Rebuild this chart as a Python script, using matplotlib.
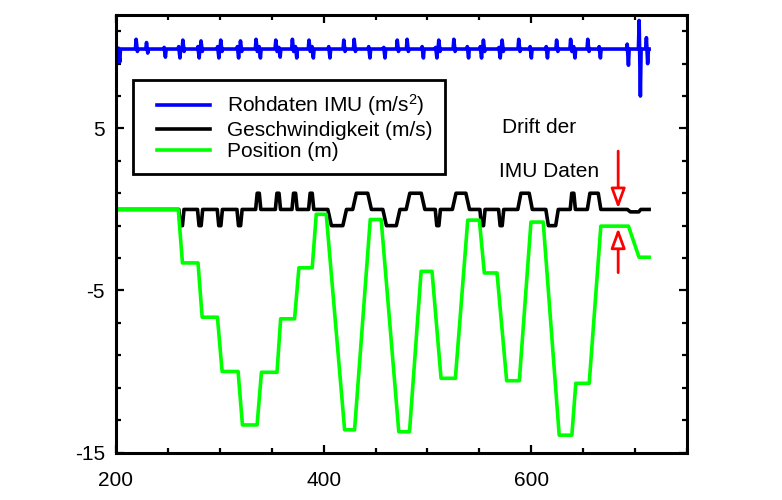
import numpy as np
import matplotlib
matplotlib.use("Agg")
import matplotlib.pyplot as plt
from matplotlib.ticker import MultipleLocator, FixedLocator
from matplotlib.legend_handler import HandlerLine2D
from matplotlib.lines import Line2D

plt.rcParams['font.family'] = ['Liberation Sans', 'DejaVu Sans']
plt.rcParams['mathtext.fontset'] = 'custom'
plt.rcParams['mathtext.rm'] = 'Liberation Sans'
plt.rcParams['mathtext.it'] = 'Liberation Sans:italic'
plt.rcParams['axes.unicode_minus'] = False

# --- data ---
# raw IMU data: baseline plus spikes (x, max, min)
imu_base = 9.9
imu_start, imu_end = 200, 713.5
imu_spike_x = [203, 220, 230, 247, 261, 265, 279.5, 282.5, 298.5, 301.5,
               317.5, 320.5, 335.5, 338.5, 354.5, 357.5, 370.5, 373.5, 386.5, 389.5,
               405.5, 420, 430, 444, 458.5, 471.5, 481, 495.5, 508.5, 511.5,
               526, 539, 551.5, 554.5, 569.5, 572.5, 588.5, 599.5, 615, 625,
               638.5, 641.5, 655, 666, 693, 704.5, 711.5]
imu_spike_hi = [9.95, 10.5, 10.3, 10.0, 10.05, 10.45, 10.05, 10.4, 10.05, 10.45,
                10.05, 10.4, 10.5, 10.05, 10.45, 10.0, 10.5, 10.05, 10.45, 10.05,
                10.05, 10.45, 10.5, 10.05, 10.0, 10.45, 10.5, 10.05, 10.0, 10.45,
                10.5, 10.05, 10.05, 10.45, 10.0, 10.45, 10.5, 10.05, 10.05, 10.45,
                10.5, 10.05, 10.5, 10.05, 10.2, 11.66, 10.6]
imu_spike_lo = [9.1, 9.75, 9.65, 9.4, 9.35, 9.75, 9.35, 9.75, 9.35, 9.75,
                9.35, 9.75, 9.75, 9.35, 9.75, 9.4, 9.75, 9.35, 9.75, 9.35,
                9.35, 9.75, 9.75, 9.35, 9.35, 9.75, 9.75, 9.35, 9.35, 9.75,
                9.75, 9.35, 9.35, 9.75, 9.35, 9.75, 9.75, 9.35, 9.35, 9.75,
                9.75, 9.35, 9.75, 9.35, 8.9, 7.0, 9.0]

# velocity (m/s)
vel_x = [200, 260.5, 262, 264, 265.5,
         278.5, 280, 282, 283.5,
         297.5, 299, 301, 302.5,
         316.5, 318, 320, 321.5,
         334.5, 336, 338, 339.5,
         353.5, 355, 357, 358.5,
         369.5, 371, 373, 374.5,
         385.5, 387, 389, 390.5,
         404, 407.5, 418.5, 422,
         428, 431.5, 442.5, 446,
         457, 460.5, 470, 473.5,
         479.5, 483, 494, 497.5,
         507.5, 509, 511, 512.5,
         524, 527.5, 537, 540.5,
         550.5, 552, 554, 555.5,
         568.5, 570, 572, 573.5,
         587, 590, 598, 601,
         614, 616.5, 623.5, 626,
         637.5, 639, 641, 642.5,
         654, 656.5, 664.5, 667,
         692.5, 695.5, 703.5, 705.5,
         713.5]
vel_y = [0, 0, -1, -1, 0,
         0, -1, -1, 0,
         0, -1, -1, 0,
         0, -1, -1, 0,
         0, 1, 1, 0,
         0, 1, 1, 0,
         0, 1, 1, 0,
         0, 1, 1, 0,
         0, -1, -1, 0,
         0, 1, 1, 0,
         0, -1, -1, 0,
         0, 1, 1, 0,
         0, -1, -1, 0,
         0, 1, 1, 0,
         0, -1, -1, 0,
         0, -1, -1, 0,
         0, 1, 1, 0,
         0, -1, -1, 0,
         0, 1, 1, 0,
         0, 1, 1, 0,
         0, -0.15, -0.15, 0,
         0]

# position (m)
pos_x = [200, 260, 264, 279, 283, 297.7, 302.2, 317.6, 321.8, 335.9,
         340.1, 355.1, 358.6, 372, 376.2, 389, 392.9, 402.5, 420.2, 429.8,
         444.9, 455.4, 472.4, 482.7, 493.9, 504.4, 513.1, 526.9, 538.8, 550,
         554.8, 567, 576.3, 588.5, 599.7, 611.5, 626.9, 639.1, 642.9, 655.8,
         667, 693.6, 703.8, 713.5]
pos_y = [0, 0, -3.3, -3.3, -6.65, -6.65, -10.0, -10.0, -13.3, -13.3,
         -10.05, -10.05, -6.75, -6.75, -3.6, -3.6, -0.3, -0.3, -13.6, -13.6,
         -0.62, -0.62, -13.72, -13.72, -3.82, -3.82, -10.42, -10.42, -0.66, -0.66,
         -3.92, -3.92, -10.57, -10.57, -0.78, -0.78, -13.93, -13.93, -10.73, -10.73,
         -1.03, -1.03, -2.95, -2.95]

labels = ['Rohdaten IMU (m/s$^2$)', 'Geschwindigkeit (m/s)', 'Position (m)']
drift_x = 683.7
drift_top = (3.6, 0.05)
drift_bottom = (-3.9, -1.15)

# build the IMU trace from baseline and spikes
imu_x = [imu_start]
imu_y = [imu_base]
for sx, hi, lo in zip(imu_spike_x, imu_spike_hi, imu_spike_lo):
    imu_x += [sx - 1.3, sx - 0.6, sx + 0.6, sx + 1.3]
    imu_y += [imu_base, hi, lo, imu_base]
imu_x.append(imu_end)
imu_y.append(imu_base)

fig = plt.figure(figsize=(7.82, 5.0), dpi=100)
ax = fig.add_axes([116 / 782, 1 - 452.5 / 500, 571 / 782, 437.5 / 500])

ax.plot(imu_x, imu_y, color='#0000ff', lw=2.6, solid_joinstyle='round', label=labels[0])
ax.plot(vel_x, vel_y, color='black', lw=2.6, solid_joinstyle='round', label=labels[1])
ax.plot(pos_x, pos_y, color='#00ff00', lw=2.6, solid_joinstyle='round', label=labels[2])

arrow_props = dict(arrowstyle='-|>,head_length=0.6,head_width=0.22', color='red',
                   fc='white', lw=2, shrinkA=0, shrinkB=0, mutation_scale=20)
ax.annotate('', xy=(drift_x, drift_top[1]), xytext=(drift_x, drift_top[0]), arrowprops=arrow_props)
ax.annotate('', xy=(drift_x, drift_bottom[1]), xytext=(drift_x, drift_bottom[0]), arrowprops=arrow_props)

ax.text(572, 5.08, 'Drift der', fontsize=15, va='center')
ax.text(569, 2.36, 'IMU Daten', fontsize=15, va='center')

ax.set_xlim(200, 750)
ax.set_ylim(-15, 12)
ax.set_xticks([200, 400, 600])
ax.xaxis.set_minor_locator(MultipleLocator(50))
ax.set_yticks([-15, -5, 5])
ax.yaxis.set_minor_locator(FixedLocator(np.arange(-13, 12, 2)))
ax.tick_params(which='both', direction='in', top=True, right=True, width=1.6, labelsize=15)
ax.tick_params(which='major', length=6)
ax.tick_params(which='minor', length=3.5)
ax.tick_params(axis='x', pad=13)
ax.tick_params(axis='y', pad=8)
for s in ax.spines.values():
    s.set_linewidth(2.2)


def indent_handle(legline, orig):
    # leave a gap before the legend line, like the original
    legline.update_from(orig)
    x = legline.get_xdata()
    legline.set_xdata(np.linspace(x[0] + 8.5, x[-1], len(x)))


leg = ax.legend(loc='upper left', bbox_to_anchor=((133 - 116) / 571, (452.5 - 80) / 437.5),
                borderaxespad=0, fontsize=15, frameon=True, fancybox=False,
                edgecolor='black', framealpha=1, handlelength=3.1, handletextpad=0.8,
                labelspacing=0.12, borderpad=0.6,
                handler_map={Line2D: HandlerLine2D(update_func=indent_handle)})
leg.get_frame().set_linewidth(2)

fig.savefig('out.png', dpi=100)
